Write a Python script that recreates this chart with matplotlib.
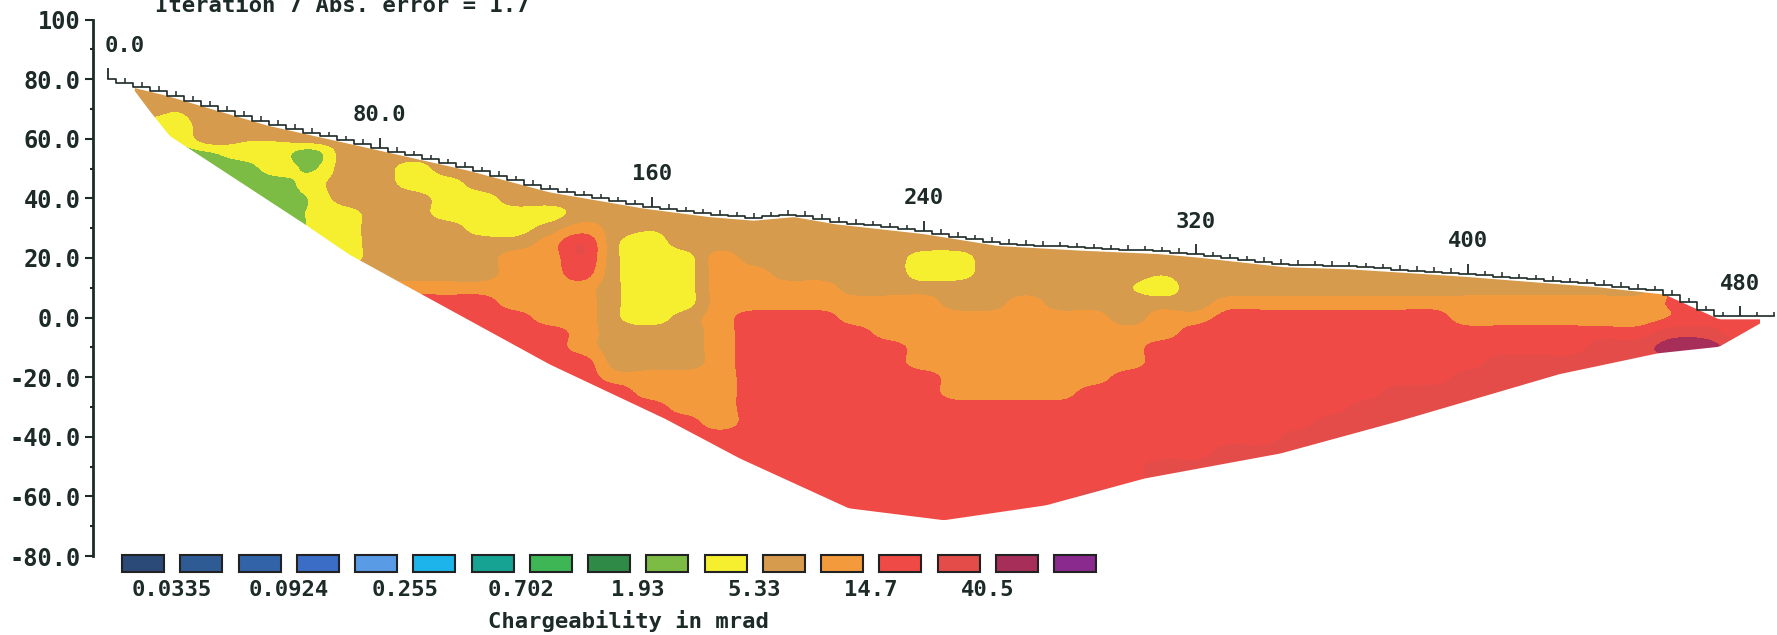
import numpy as np
import matplotlib
matplotlib.use("Agg")
import matplotlib.pyplot as plt
from matplotlib.colors import ListedColormap, BoundaryNorm
from matplotlib.patches import Polygon, Rectangle

# colour scale of the section (mrad), labelled class limits
legend_values = [0.0335, 0.0924, 0.255, 0.702, 1.93, 5.33, 14.7, 40.5]
legend_colors = ['#2c4a78', '#2f5b94', '#3263a9', '#3b6dc7', '#5a9be6', '#1cb4ea',
                 '#17a394', '#3fb656', '#2f8a47', '#7cbc45', '#f6ef2f', '#d69b4d',
                 '#f39a3d', '#ef4a45', '#e44c49', '#a62e59', '#8a2a8e']

# surface topography (station m, elevation m)
topo_x = [0, 17, 47, 78, 106, 130, 158, 177, 190, 202, 214, 240, 262, 287,
          309, 320, 346, 365, 395, 400, 439, 458, 474, 491]
topo_z = [80.2, 75.5, 65.4, 57.5, 50.3, 43.0, 37.5, 34.7, 33.5, 34.7, 32.3, 29.0,
          25.0, 23.4, 22.3, 21.2, 17.9, 17.2, 15.0, 14.6, 11.1, 8.7, 0.4, 0.4]

# lower limit of the model section
base_x = [8, 12.4, 18.3, 58, 71, 89, 130, 164, 186, 218, 246, 276, 305, 345,
          380, 427, 456, 474, 486]
base_z = [76, 69.3, 60.9, 31.3, 21.2, 9.9, -15.7, -34, -47.3, -64, -68, -63,
          -54, -45.6, -34.7, -19, -12, -9.8, -2]

station_labels = ["0.0", "80.0", "160", "240", "320", "400", "480"]
station_pos = [0, 80, 160, 240, 320, 400, 480]

ytick_vals = [100, 80, 60, 40, 20, 0, -20, -40, -60, -80]
ytick_labels = ["100", "80.0", "60.0", "40.0", "20.0", "0.0", "-20.0", "-40.0", "-60.0", "-80.0"]

# model values: one string per station column, elevation 80 -> -70 every 5 m
stations = list(range(0, 500, 10))
elevs = list(range(80, -75, -5))
code_mrad = {'G': 2.5, 'g': 3.0, 'y': 3.4, 'Y': 4.2, 't': 5.6, 'T': 6.9, 'O': 11.4,
             'r': 15.5, 'R': 18.9, 'S': 23.5, 'Q': 31.5, 'D': 52.0}
columns = [
    "TTY" + "G"*28,                            # 0
    "TTTYy" + "G"*26,                          # 10
    "TTtYyG" + "G"*25,                         # 20
    "TTTTTg" + "G"*25,                         # 30
    "TTTTtYGG" + "G"*23,                       # 40
    "TTTTtYYGG" + "G"*22,                      # 50
    "TTTTTGgY" + "yyy" + "Y"*20,               # 60
    "T"*9 + "YYYY" + "T"*18,                   # 70
    "T"*14 + "O"*17,                           # 80
    "T"*6 + "YY" + "T"*6 + "O" + "R"*16,       # 90
    "T"*7 + "YYY" + "T"*4 + "O" + "R"*16,      # 100
    "T"*8 + "YYY" + "T"*3 + "O" + "R"*16,      # 110
    "T"*9 + "YY" + "T" + "O"*4 + "R"*15,       # 120
    "T"*9 + "Y" + "T" + "O"*6 + "R"*14,        # 130
    "T"*10 + "O" + "SSR" + "O"*5 + "R"*12,     # 140
    "T"*11 + "t"*6 + "T"*3 + "O" + "R"*10,     # 150
    "T"*10 + "t" + "Y"*6 + "T"*3 + "OO" + "R"*9,  # 160
    "T"*12 + "Y"*4 + "T"*4 + "O"*3 + "R"*8,    # 170
    "T"*12 + "O"*12 + "R"*7,                   # 180
    "T"*13 + "O"*3 + "R"*15,                   # 190
    "T"*14 + "O"*2 + "R"*15,                   # 200
    "T"*14 + "O"*2 + "R"*15,                   # 210
    "T"*15 + "O"*2 + "R"*14,                   # 220
    "T"*15 + "O"*3 + "R"*13,                   # 230
    "T"*12 + "YY" + "T" + "O"*5 + "R"*11,      # 240
    "T"*12 + "YY" + "TT" + "O"*6 + "R"*9,      # 250
    "T"*16 + "O"*6 + "R"*9,                    # 260
    "T"*15 + "O"*7 + "R"*9,                    # 270
    "T"*16 + "O"*6 + "R"*9,                    # 280
    "T"*16 + "O"*5 + "R"*7 + "Q"*3,            # 290
    "T"*14 + "t" + "TT" + "O"*3 + "R"*8 + "Q"*3,   # 300
    "T"*13 + "tY" + "T" + "OO" + "R"*8 + "Q"*5,    # 310
    "T"*16 + "O" + "R"*9 + "Q"*5,              # 320
    "T"*15 + "O" + "R"*9 + "Q"*6,              # 330
    "T"*15 + "O" + "R"*9 + "Q"*6,              # 340
    "T"*15 + "O" + "R"*8 + "Q"*7,              # 350
    "T"*15 + "O" + "R"*7 + "Q"*8,              # 360
    "T"*15 + "O" + "R"*6 + "Q"*9,              # 370
    "T"*15 + "O" + "R"*5 + "Q"*10,             # 380
    "T"*15 + "O" + "R"*5 + "Q"*10,             # 390
    "T"*15 + "OO" + "RRR" + "Q"*11,            # 400
    "T"*15 + "OO" + "RR" + "Q"*12,             # 410
    "T"*15 + "OO" + "RR" + "Q"*12,             # 420
    "T"*15 + "OO" + "RR" + "Q"*12,             # 430
    "T"*15 + "OO" + "R" + "Q"*13,              # 440
    "T"*15 + "OO" + "R" + "Q"*13,              # 450
    "r"*17 + "Q" + "D" + "Q"*12,               # 460
    "R"*17 + "Q" + "D" + "Q"*12,               # 470
    "R"*18 + "Q"*13,                           # 480
    "R"*18 + "Q"*13,                           # 490
]

ink = '#1c2a28'
mono = 'DejaVu Sans Mono'

vals = np.array([[code_mrad[c] for c in col] for col in columns]).T
z = np.log10(vals)

# 16 class limits: labelled ones plus the geometric steps between them
ratio = (legend_values[-1] / legend_values[0]) ** (1 / 14)
limits = legend_values[0] * ratio ** np.arange(16)
bounds = np.concatenate([[-9], np.log10(limits), [9]])
cmap = ListedColormap(legend_colors)
norm = BoundaryNorm(bounds, cmap.N)

fig = plt.figure(figsize=(17.77, 6.35), dpi=100)
ax = fig.add_axes([93 / 1777, 1 - 556 / 635, 1 - 93 / 1777, (556 - 19.5) / 635])

ds = stations[1] - stations[0]
de = elevs[0] - elevs[1]
im = ax.imshow(z, extent=(stations[0] - ds / 2, stations[-1] + ds / 2,
                          elevs[-1] - de / 2, elevs[0] + de / 2),
               origin='upper', aspect='auto', cmap=cmap, norm=norm,
               interpolation='catrom', interpolation_stage='data')

xs = np.linspace(base_x[0], base_x[-1], 500)
top = np.interp(xs, topo_x, topo_z) - 1.0
bot = np.interp(xs, base_x, base_z)
outline = np.column_stack([np.concatenate([xs, xs[::-1]]), np.concatenate([top, bot[::-1]])])
clip = Polygon(outline, closed=True, transform=ax.transData)
im.set_clip_path(clip)

# topography with electrode marks
ex = np.arange(0, 492, 5)
ez = np.interp(ex, topo_x, topo_z)
ax.plot(ex, ez, drawstyle='steps-mid', color=ink, lw=1.2)
major = (ex % 80) == 0
ax.vlines(ex[~major], ez[~major], ez[~major] + 1.5, color=ink, lw=1.1)
ax.vlines(ex[major], ez[major], ez[major] + 3.4, color=ink, lw=1.3)

for lab, s in zip(station_labels, station_pos):
    h = np.interp(s, topo_x, topo_z) + 11
    ax.text(s - 1 if s == 0 else s, h, lab, ha='left' if s == 0 else 'center',
            va='center', family=mono, weight='bold', fontsize=16, color=ink)

ax.set_xlim(-4.3, 491)
ax.set_ylim(-80, 100)
for side in ['top', 'right', 'bottom']:
    ax.spines[side].set_visible(False)
ax.spines['left'].set_color(ink)
ax.spines['left'].set_linewidth(2)
ax.set_xticks([])
ax.set_yticks(ytick_vals)
ax.set_yticklabels(ytick_labels, family=mono, weight='bold', fontsize=17, color=ink)
ax.set_yticks(np.arange(-70, 100, 20), minor=True)
ax.tick_params(axis='y', which='major', length=6, width=1.5, color=ink, pad=3)
ax.tick_params(axis='y', which='minor', length=2.5, width=1.5, color=ink)

fig.text(155 / 1777, 1 - 12 / 635, "Iteration 7 Abs. error = 1.7", va='baseline',
         ha='left', family=mono, weight='bold', fontsize=16, color=ink)

# legend boxes drawn in pixel units
lg = fig.add_axes([0, 0, 1, 1])
lg.set_xlim(0, 1777)
lg.set_ylim(635, 0)
lg.axis('off')
for k, col in enumerate(legend_colors):
    lg.add_patch(Rectangle((122 + 58.25 * k, 555), 42, 17, facecolor=col,
                           edgecolor='#222222', lw=1.5))
for j, v in enumerate(legend_values):
    lg.text(172 + 116.5 * j, 590, f"{v:g}", ha='center', va='center',
            family=mono, weight='bold', fontsize=16, color=ink)
lg.text(628, 621, "Chargeability in mrad", ha='center', va='center',
        family=mono, weight='bold', fontsize=16, color=ink)

fig.savefig("out.png", dpi=100)
